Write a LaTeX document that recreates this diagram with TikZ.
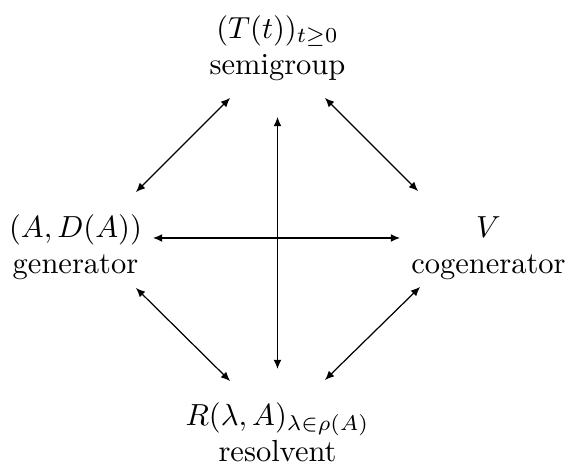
\documentclass[tikz,border=0pt]{standalone}
\usetikzlibrary{arrows.meta}
\begin{document}
\begin{tikzpicture}[x=0.32787pt,y=-0.32787pt,
  lbl/.style={align=center,inner sep=0pt,outer sep=0pt,anchor=base},
  dbl/.style={{Latex[length=3pt,width=2.6pt]}-{Latex[length=3pt,width=2.6pt]},line width=0.4pt}]
\useasboundingbox (0,0) rectangle (568,466);
\node[lbl] (sg)  at (277.5,75)  {$(T(t))_{t\geq 0}$\\semigroup};
\node[lbl] (gen) at (75.5,274)  {$(A,D(A))$\\generator};
\node[lbl] (cog) at (488.5,274) {$V$\\cogenerator};
\node[lbl] (res) at (277.5,462) {$R(\lambda,A)_{\lambda\in\rho(A)}$\\resolvent};
\draw[dbl] ([shift={(-47.5,23)}]sg.base) -- ([shift={(60.5,-82)}]gen.base);
\draw[dbl] ([shift={(47.5,23)}]sg.base) -- ([shift={(-70.5,-83)}]cog.base);
\draw[dbl] ([shift={(0,42)}]sg.base) -- ([shift={(0,-93)}]res.base);
\draw[dbl] ([shift={(77.5,-36)}]gen.base) -- ([shift={(-88.5,-36)}]cog.base);
\draw[dbl] ([shift={(60.5,14)}]gen.base) -- ([shift={(-47.5,-81)}]res.base);
\draw[dbl] ([shift={(-68.5,13)}]cog.base) -- ([shift={(47.5,-82)}]res.base);
\end{tikzpicture}
\end{document}
